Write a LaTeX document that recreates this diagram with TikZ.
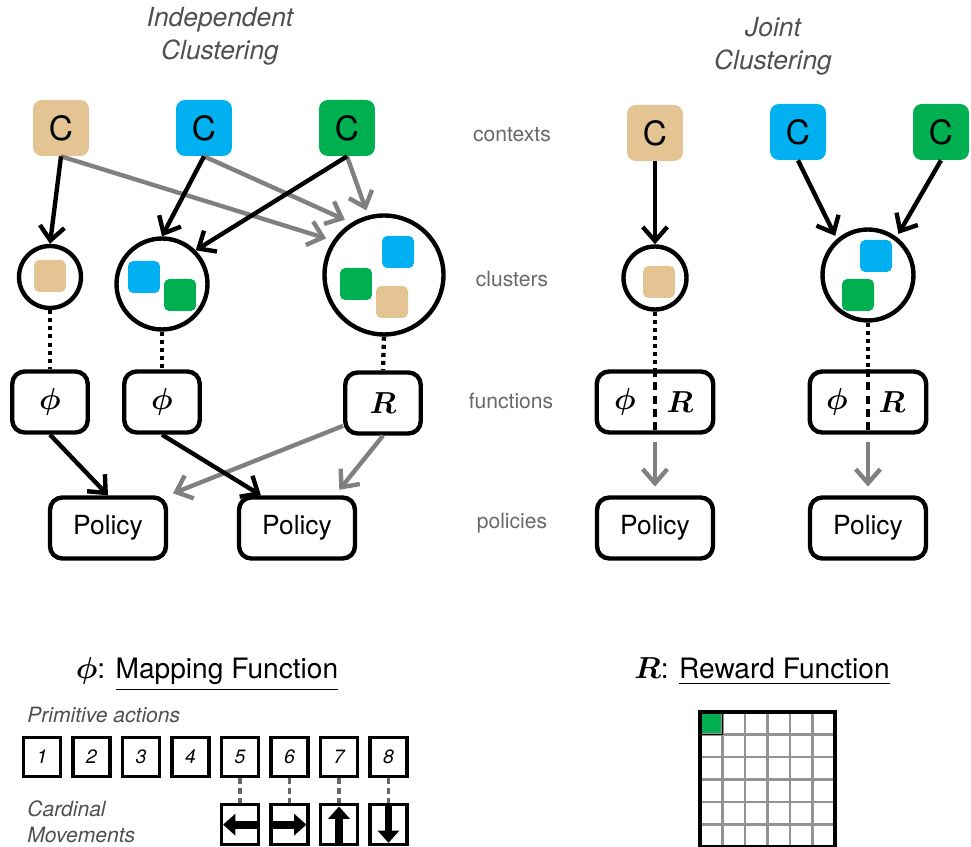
\documentclass[tikz,border=0pt]{standalone}
\usepackage{amsmath}
\usepackage{amssymb}
\usepackage{fontspec}
\setsansfont{TeX Gyre Heros}
\usetikzlibrary{arrows.meta, positioning, calc}
\definecolor{ctan}{RGB}{229,196,148}
\definecolor{cblue}{RGB}{0,176,240}
\definecolor{cgreen}{RGB}{0,176,80}
\definecolor{titlegray}{RGB}{80,80,80}
\definecolor{rowgray}{RGB}{105,105,105}
\tikzset{
  ctxbox/.style={
    rectangle, rounded corners=5pt, inner sep=0pt,
    minimum size=1.12cm, fill=#1,
    font=\sffamily\fontsize{19}{22}\selectfont
  },
  membox/.style={
    rectangle, rounded corners=3pt, inner sep=0pt,
    minimum size=0.64cm, fill=#1
  },
  clusnode/.style={
    circle, draw, line width=2.5pt, inner sep=0pt, minimum size=#1
  },
  funbox/.style={
    rectangle, rounded corners=7pt, draw, line width=2.5pt,
    minimum width=#1, minimum height=1.22cm,
    font=\fontsize{18}{21}\selectfont
  },
  symtext/.style={font=\fontsize{18}{21}\selectfont, inner sep=0pt},
  polbox/.style={
    rectangle, rounded corners=7pt, draw, line width=2.5pt,
    minimum width=2.32cm, minimum height=1.22cm,
    font=\sffamily\fontsize{15}{18}\selectfont
  },
  titletext/.style={
    align=center, text=titlegray,
    font=\sffamily\itshape\fontsize{15}{19}\selectfont
  },
  rowtext/.style={text=rowgray, font=\sffamily\fontsize{12}{14}\selectfont},
  headtext/.style={font=\sffamily\fontsize{16}{19}\selectfont, inner sep=0pt},
  smalltext/.style={
    text=titlegray, inner sep=0pt, align=left,
    font=\sffamily\itshape\fontsize{12}{15}\selectfont
  },
  numbox/.style={
    rectangle, draw, line width=1.8pt,
    minimum width=0.74cm, minimum height=0.79cm,
    font=\sffamily\itshape\fontsize{11}{13}\selectfont
  },
  movebox/.style={
    rectangle, draw, line width=1.8pt,
    minimum width=0.74cm, minimum height=0.79cm
  },
  blackarrow/.style={-{Straight Barb[length=8pt,width=14pt]}, line width=2.5pt},
  grayarrow/.style={blackarrow, color=gray},
  dotlink/.style={line width=2.5pt, dash pattern=on 2.3pt off 2.3pt},
  dashlink/.style={line width=2.2pt, dash pattern=on 4.5pt off 3pt},
  maplink/.style={line width=1.8pt, color=gray!80!black, dash pattern=on 3.5pt off 2.2pt},
  movearrow/.style={-{Triangle[length=7pt,width=12pt]}, line width=4.5pt,
    shorten <=1.8pt, shorten >=1.8pt},
  gridline/.style={line width=1.2pt, color=gray!85}
}
\begin{document}
\begin{tikzpicture}[x=0.02cm, y=-0.02cm]
    \useasboundingbox (0,0) rectangle (971,847);
    \node[titletext] (tind)   at (220,36) {Independent\\Clustering};
    \node[titletext] (tjoint) at (773,46) {Joint\\Clustering};
    % contexts
    \node[ctxbox=ctan]   (ctan)   at (61,128)  {C};
    \node[ctxbox=cblue]  (cblue)  at (204,128) {C};
    \node[ctxbox=cgreen] (cgreen) at (347,128) {C};
    \node[ctxbox=ctan]   (jtan)   at (655,133) {C};
    \node[ctxbox=cblue]  (jblue)  at (798,132) {C};
    \node[ctxbox=cgreen] (jgreen) at (941,132) {C};
    % clusters
    \node[clusnode=1.24cm] (cl1) at (50,277)  {};
    \node[clusnode=1.82cm] (cl2) at (162,284) {};
    \node[clusnode=2.38cm] (cl3) at (384,275) {};
    \node[clusnode=1.26cm] (jl1) at (655,278) {};
    \node[clusnode=1.82cm] (jl2) at (868,275) {};
    \node[membox=ctan]   (cl1tan)   at (50,276)  {};
    \node[membox=cblue]  (cl2blue)  at (144,277) {};
    \node[membox=cgreen] (cl2green) at (180,295) {};
    \node[membox=cblue]  (cl3blue)  at (398,252) {};
    \node[membox=cgreen] (cl3green) at (356,284) {};
    \node[membox=ctan]   (cl3tan)   at (392,302) {};
    \node[membox=ctan]   (jl1tan)   at (659,282) {};
    \node[membox=cblue]  (jl2blue)  at (876,256) {};
    \node[membox=cgreen] (jl2green) at (858,295) {};
    % functions
    \node[funbox=1.51cm] (f1) at (50,402)  {$\boldsymbol{\phi}$};
    \node[funbox=1.51cm] (f2) at (162,402) {$\boldsymbol{\phi}$};
    \node[funbox=1.51cm] (f3) at (383,403) {$\boldsymbol{R}$};
    \node[funbox=2.33cm] (jf1) at (655,402) {};
    \node[funbox=2.33cm] (jf2) at (868,402) {};
    \node[symtext] (jf1phi) at (625,402) {$\boldsymbol{\phi}$};
    \node[symtext] (jf1r)   at (680,402) {$\boldsymbol{R}$};
    \node[symtext] (jf2phi) at (837,402) {$\boldsymbol{\phi}$};
    \node[symtext] (jf2r)   at (892,402) {$\boldsymbol{R}$};
    % policies
    \node[polbox] (p1)  at (108,528) {Policy};
    \node[polbox] (p2)  at (297,528) {Policy};
    \node[polbox] (jp1) at (655,528) {Policy};
    \node[polbox] (jp2) at (868,528) {Policy};
    \node[rowtext] (lctx) at (512,135) {contexts};
    \node[rowtext] (lclu) at (512,279) {clusters};
    \node[rowtext] (lfun) at (511,401) {functions};
    \node[rowtext] (lpol) at (512,523) {policies};
    % connectors
    \draw[grayarrow, shorten >=4pt] (ctan.south)   -- (cl3.146);
    \draw[grayarrow, shorten >=4pt] (cblue.south)  -- (cl3.122);
    \draw[grayarrow, shorten >=3pt] (cgreen.south) -- (cl3.105);
    \draw[blackarrow] (ctan.south)   -- (cl1.north);
    \draw[blackarrow] (cblue.south)  -- (cl2.north);
    \draw[blackarrow] (cgreen.south) -- (cl2.45);
    \draw[blackarrow] (jtan.south)   -- (jl1.north);
    \draw[blackarrow, shorten >=2pt] (jblue.south)  -- (jl2.131);
    \draw[blackarrow, shorten >=2pt] (jgreen.south) -- (jl2.53);
    \draw[dotlink] (cl1.south) -- (f1.north);
    \draw[dotlink] (cl2.south) -- (f2.north);
    \draw[dotlink] (cl3.south) -- (f3.north);
    \draw[dotlink] (jl1.south) -- (jf1.north);
    \draw[dotlink] (jl2.south) -- (jf2.north);
    \draw[dashlink] (jf1.north) -- (jf1.south);
    \draw[dashlink] (jf2.north) -- (jf2.south);
    \draw[grayarrow, shorten >=3pt] ($(f3.south west)!0.15!(f3.north west)$) -- (p1.north east);
    \draw[grayarrow, shorten >=4pt] (f3.south) -- ($(p2.north)!0.63!(p2.north east)$);
    \draw[blackarrow] (f1.south) -- (p1.north);
    \draw[blackarrow] (f2.south) -- ($(p2.north)!0.6!(p2.north west)$);
    \draw[grayarrow, shorten <=4pt, shorten >=5pt] (jf1.south) -- (jp1.north);
    \draw[grayarrow, shorten <=4pt, shorten >=5pt] (jf2.south) -- (jp2.north);
    % mapping function
    \node[headtext, anchor=base] (hphi) at (207,679)
         {$\boldsymbol{\phi}$: \underline{Mapping Function}};
    \node[smalltext, anchor=west] (lprim) at (27,715) {Primitive actions};
    \foreach \i in {1,...,8}
      \node[numbox] (n\i) at ({42+49.5*(\i-1)},757) {\i};
    \foreach \i in {5,...,8}{
      \node[movebox, below=0.5cm of n\i] (mv\i) {};
      \draw[maplink] (n\i.south) -- (mv\i.north);
    }
    \draw[movearrow] (mv5.east) -- (mv5.west);
    \draw[movearrow] (mv6.west) -- (mv6.east);
    \draw[movearrow] (mv7.south) -- (mv7.north);
    \draw[movearrow] (mv8.north) -- (mv8.south);
    \node[smalltext, anchor=west] (lcard) at (27,822) {Cardinal\\Movements};
    % reward function
    \node[headtext, anchor=base] (hr) at (762,679)
         {$\boldsymbol{R}$: \underline{Reward Function}};
    \fill[cgreen] (700,712) rectangle (722.5,734.5);
    \foreach \k in {1,...,5}{
      \draw[gridline] ({700+22.5*\k},712) -- ({700+22.5*\k},847);
      \draw[gridline] (700,{712+22.5*\k}) -- (835,{712+22.5*\k});
    }
    \draw[line width=0.6pt] (700,712) rectangle (722.5,734.5);
    \draw[line width=2.3pt] (700,712) rectangle (835,847);
\end{tikzpicture}
\end{document}
